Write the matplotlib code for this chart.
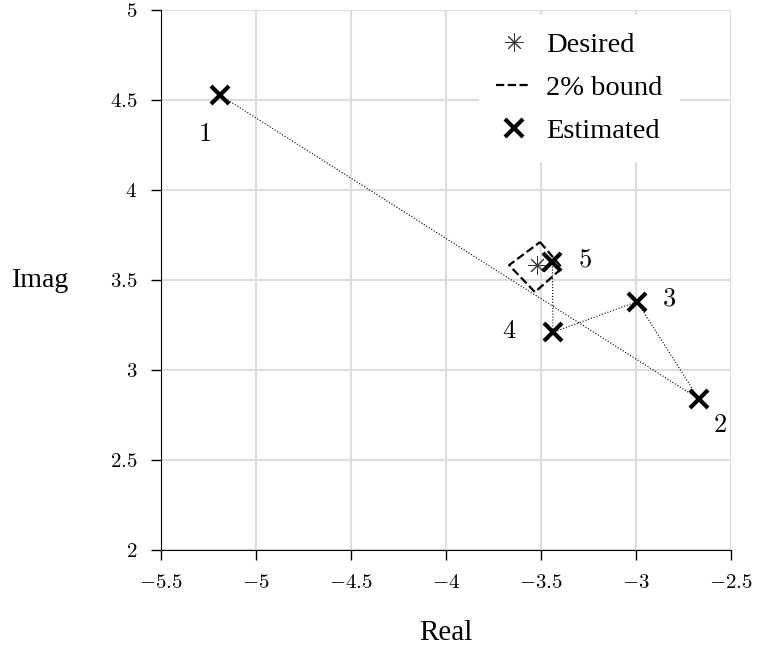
import matplotlib.pyplot as plt
import numpy as np

plt.rcParams['font.family'] = ['Liberation Serif', 'DejaVu Serif']
plt.rcParams['mathtext.fontset'] = 'cm'

# estimated poles, iteration order
est_re = [-5.19, -2.67, -2.995, -3.437, -3.44]
est_im = [4.528, 2.84, 3.38, 3.21, 3.60]
est_lbl = ['1', '2', '3', '4', '5']
lbl_dx = [-0.08, 0.11, 0.17, -0.23, 0.17]
lbl_dy = [-0.22, -0.15, 0.01, -0.0, 0.01]

# desired pole and 2% bound region
des_re = -3.522
des_im = 3.583
bound_re = [-3.505, -3.389, -3.532, -3.668, -3.505]
bound_im = [3.711, 3.567, 3.433, 3.583, 3.711]

xticks = [-5.5, -5, -4.5, -4, -3.5, -3, -2.5]
yticks = [2, 2.5, 3, 3.5, 4, 4.5, 5]

fig = plt.figure(figsize=(7.57, 6.6), dpi=100)
ax = fig.add_axes([0.2127, 0.1667, 0.753, 0.818])

ax.plot(est_re, est_im, ':', color='black', lw=0.8)
ax.plot(bound_re, bound_im, '--', color='black', lw=1.6, label='2% bound')
ax.plot([des_re], [des_im], ls='none', marker=(8, 2, 0), ms=13, mew=0.7,
        color='#333333', label='Desired')
ax.plot(est_re, est_im, ls='none', marker='x', ms=13, mew=3,
        color='black', label='Estimated')

for x, y, s, dx, dy in zip(est_re, est_im, est_lbl, lbl_dx, lbl_dy):
    ax.text(x + dx, y + dy, '$' + s + '$', fontsize=19, ha='center', va='center')

ax.set_xlim(-5.5, -2.5)
ax.set_ylim(2, 5)
ax.set_xticks(xticks)
ax.set_yticks(yticks)
ax.set_xticklabels(['$%g$' % t for t in xticks])
ax.set_yticklabels(['$%g$' % t for t in yticks])
ax.tick_params(direction='out', length=7, width=1, labelsize=15, pad=10)
ax.grid(True, color='#dddddd', lw=1.5)
ax.set_axisbelow(True)
for s in ['top', 'right']:
    ax.spines[s].set_visible(False)

ax.set_xlabel('Real', fontsize=21, labelpad=20)
ax.set_ylabel('Imag', fontsize=20, rotation=0, labelpad=50, va='center')

h, l = ax.get_legend_handles_labels()
order = [1, 0, 2]
leg = ax.legend([h[i] for i in order], [l[i] for i in order], loc='upper right',
                bbox_to_anchor=(0.925, 1.006), fontsize=20.5, frameon=True,
                facecolor='white', edgecolor='none', framealpha=1,
                handlelength=1.2, handletextpad=0.55, labelspacing=0.6)
leg.get_frame().set_boxstyle('square', pad=0.2)

fig.savefig('out.png', dpi=100)
